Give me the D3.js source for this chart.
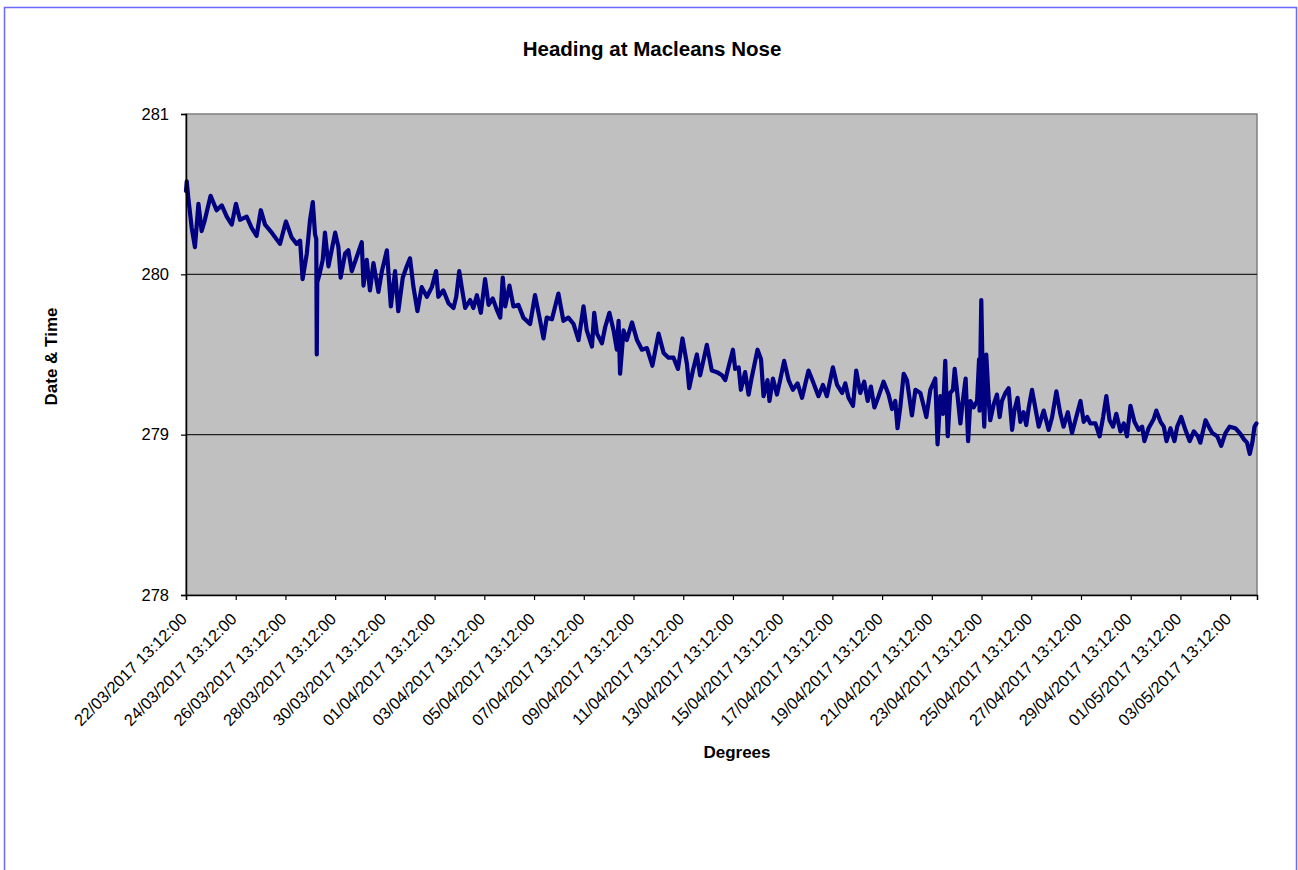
<!DOCTYPE html>
<html>
<head>
<meta charset="utf-8">
<script src="https://cdn.jsdelivr.net/npm/d3@7"></script>
<style>
  body { margin: 0; background: #fff; }
  text { font-family: "Liberation Sans", Arial, sans-serif; fill: #000; }
</style>
</head>
<body>
<div id="chart"></div>
<script>
// chart text
var chartTitle = "Heading at Macleans Nose";
var xTitle = "Degrees";
var yTitle = "Date & Time";

// first sample time, tick labels on the date axis
var startLabel = "22/03/2017 13:12:00";
var tickLabels = [
  "22/03/2017 13:12:00", "24/03/2017 13:12:00", "26/03/2017 13:12:00", "28/03/2017 13:12:00",
  "30/03/2017 13:12:00", "01/04/2017 13:12:00", "03/04/2017 13:12:00", "05/04/2017 13:12:00",
  "07/04/2017 13:12:00", "09/04/2017 13:12:00", "11/04/2017 13:12:00", "13/04/2017 13:12:00",
  "15/04/2017 13:12:00", "17/04/2017 13:12:00", "19/04/2017 13:12:00", "21/04/2017 13:12:00",
  "23/04/2017 13:12:00", "25/04/2017 13:12:00", "27/04/2017 13:12:00", "29/04/2017 13:12:00",
  "01/05/2017 13:12:00", "03/05/2017 13:12:00"
];
var endLabel = "04/05/2017 15:07:00";
var yTicks = [278, 279, 280, 281];

// samples: days since start, heading (deg)
var dayOffset = [
  0.00, 0.03, 0.09, 0.23, 0.36, 0.50, 0.63, 0.76, 0.99, 1.23, 1.44, 1.64, 1.84, 2.01, 2.17, 2.44,
  2.64, 2.84, 3.01, 3.18, 3.45, 3.78, 4.02, 4.25, 4.45, 4.59, 4.69, 4.86, 4.99, 5.10, 5.19, 5.24,
  5.26, 5.28, 5.37, 5.50, 5.59, 5.73, 6.00, 6.13, 6.22, 6.40, 6.53, 6.67, 6.87, 7.07, 7.14, 7.27,
  7.40, 7.54, 7.74, 7.88, 8.08, 8.24, 8.41, 8.54, 8.72, 8.88, 9.01, 9.15, 9.31, 9.48, 9.69, 9.89,
  10.06, 10.15, 10.35, 10.56,
  10.76, 10.87, 10.99, 11.09, 11.23, 11.43, 11.56, 11.70, 11.86, 12.03, 12.17, 12.34, 12.50, 12.64,
  12.74, 12.84, 13.01, 13.17, 13.37, 13.57, 13.84, 14.04, 14.22, 14.38, 14.51, 14.72, 14.98, 15.18,
  15.38, 15.59, 15.79, 15.99, 16.12, 16.33, 16.42, 16.53, 16.73, 16.86, 17.03, 17.20, 17.33, 17.40,
  17.46, 17.60, 17.73, 17.94, 18.14, 18.34, 18.54, 18.76, 19.01, 19.21, 19.41, 19.61, 19.79, 19.97,
  20.15, 20.24, 20.39, 20.55, 20.68, 20.95, 21.15, 21.36, 21.56,
  21.69, 21.82, 22.00, 22.09, 22.23, 22.32, 22.49, 22.63, 22.76, 22.99, 23.13, 23.23, 23.39, 23.47,
  23.61, 23.77, 23.90, 24.06, 24.24, 24.41, 24.60, 24.78, 25.04, 25.22, 25.44, 25.62, 25.78, 26.02,
  26.19, 26.39, 26.52, 26.65, 26.83, 26.96, 27.12, 27.28, 27.42, 27.55, 27.69, 27.86, 28.06, 28.26,
  28.40, 28.53, 28.62, 28.73,
  28.87, 29.00, 29.20, 29.34, 29.54, 29.67, 29.78, 29.94, 30.14, 30.23, 30.34, 30.45, 30.54, 30.64,
  30.74, 30.85, 30.92, 31.01, 31.15, 31.23, 31.36, 31.46, 31.55, 31.68, 31.82, 31.90, 31.92, 31.99,
  32.06, 32.11, 32.19, 32.29, 32.35, 32.49, 32.62, 32.73,
  32.82, 32.96, 33.09, 33.23, 33.32, 33.45, 33.56, 33.69, 33.80, 33.90, 34.03, 34.16, 34.30, 34.50,
  34.70, 34.84, 35.01, 35.17, 35.30, 35.47, 35.64, 35.81, 35.98, 36.11, 36.25, 36.38, 36.58, 36.75,
  36.89, 37.02, 37.15, 37.29, 37.42, 37.59, 37.72, 37.85, 37.99, 38.15, 38.32, 38.46, 38.55, 38.72,
  38.93, 39.03, 39.20, 39.33, 39.44, 39.60, 39.76, 39.87, 40.03, 40.20, 40.37, 40.54, 40.70, 40.80,
  41.01, 41.14, 41.28, 41.48, 41.64, 41.81, 41.98, 42.21, 42.39, 42.56, 42.68, 42.79, 42.89, 42.98,
  43.06
];
var heading = [
  280.52, 280.58, 280.48, 280.29, 280.17, 280.44, 280.27, 280.34, 280.49, 280.40, 280.43, 280.36, 280.31, 280.44, 280.34, 280.36,
  280.29, 280.24, 280.40, 280.31, 280.26, 280.19, 280.33, 280.23, 280.19, 280.21, 279.97, 280.13, 280.34, 280.45, 280.25, 280.22,
  279.50, 279.95, 280.00, 280.09, 280.26, 280.05, 280.26, 280.17, 279.98, 280.13, 280.15, 280.02, 280.11, 280.20, 279.93, 280.09,
  279.90, 280.07, 279.89, 280.02, 280.15, 279.80, 280.02, 279.77, 279.98, 280.05, 280.10, 279.92, 279.77, 279.92, 279.86, 279.92,
  280.02, 279.86, 279.90, 279.82,
  279.79, 279.86, 280.02, 279.92, 279.79, 279.84, 279.79, 279.87, 279.76, 279.97, 279.81, 279.85, 279.78, 279.73,
  279.98, 279.80, 279.93, 279.80, 279.81, 279.73, 279.69, 279.87, 279.73, 279.60, 279.73, 279.72, 279.88, 279.71,
  279.73, 279.69, 279.59, 279.80, 279.65, 279.55, 279.76, 279.63, 279.57, 279.67, 279.76, 279.65, 279.53, 279.71,
  279.38, 279.65, 279.59, 279.70, 279.59, 279.53, 279.54, 279.43, 279.63, 279.51, 279.48, 279.48, 279.41, 279.60,
  279.44, 279.29, 279.40, 279.50, 279.37, 279.56, 279.40, 279.39, 279.37,
  279.34, 279.42, 279.53, 279.41, 279.42, 279.28, 279.39, 279.25, 279.36, 279.53, 279.47, 279.24, 279.34, 279.21,
  279.35, 279.25, 279.34, 279.46, 279.34, 279.28, 279.32, 279.23, 279.40, 279.33, 279.24, 279.31, 279.24, 279.42,
  279.31, 279.26, 279.32, 279.23, 279.18, 279.40, 279.26, 279.33, 279.21, 279.30, 279.17, 279.24, 279.33, 279.25,
  279.16, 279.21, 279.04, 279.17,
  279.38, 279.34, 279.12, 279.28, 279.26, 279.18, 279.11, 279.28, 279.35, 278.94, 279.24, 279.13, 279.46, 278.99,
  279.26, 279.28, 279.41, 279.28, 279.07, 279.19, 279.35, 278.96, 279.21, 279.17, 279.21, 279.47, 279.15, 279.84,
  279.24, 279.05, 279.50, 279.21, 279.09, 279.19, 279.25, 279.11,
  279.21, 279.26, 279.29, 279.03, 279.15, 279.23, 279.08, 279.14, 279.06, 279.17, 279.28, 279.17, 279.05, 279.15,
  279.03, 279.11, 279.27, 279.13, 279.05, 279.14, 279.01, 279.11, 279.21, 279.08, 279.11, 279.07, 279.07, 278.99,
  279.11, 279.24, 279.09, 279.05, 279.13, 279.02, 279.07, 278.99, 279.18, 279.08, 279.03, 279.05, 278.96, 279.04,
  279.10, 279.15, 279.08, 279.05, 278.96, 279.04, 278.96, 279.05, 279.11, 279.03, 278.96, 279.02, 278.99, 278.95,
  279.09, 279.05, 279.01, 278.99, 278.93, 279.01, 279.05, 279.04, 279.01, 278.97, 278.95, 278.88, 278.95, 279.05,
  279.07
];

var width = 1298, height = 870;
var plot = { left: 186, top: 114, right: 1257, bottom: 595 };

var parseTime = d3.utcParse("%d/%m/%Y %H:%M:%S");
var startTime = parseTime(startLabel);
var endTime = parseTime(endLabel);
var dayMs = 864e5;

var data = dayOffset.map(function (d, i) {
  return { t: new Date(startTime.getTime() + d * dayMs), v: heading[i] };
});

var svg = d3.select('#chart').append('svg')
  .attr('width', width).attr('height', height);

// outer chart border
svg.append('rect')
  .attr('x', 4.5).attr('y', 7.5)
  .attr('width', 1292).attr('height', 900)
  .attr('fill', 'none').attr('stroke', '#6a6aff').attr('stroke-width', 1.5);

var x = d3.scaleUtc().domain([startTime, endTime]).range([plot.left, plot.right]);
var y = d3.scaleLinear().domain([278, 281]).range([plot.bottom, plot.top]);

// plot area
svg.append('rect')
  .attr('x', plot.left).attr('y', plot.top)
  .attr('width', plot.right - plot.left).attr('height', plot.bottom - plot.top)
  .attr('fill', '#c0c0c0').attr('stroke', '#808080').attr('stroke-width', 1.5);

// gridlines
svg.append('g').selectAll('line')
  .data(yTicks.filter(function (d) { return d > 278 && d < 281; }))
  .enter().append('line')
  .attr('x1', plot.left).attr('x2', plot.right)
  .attr('y1', function (d) { return y(d); })
  .attr('y2', function (d) { return y(d); })
  .attr('stroke', '#222').attr('stroke-width', 1.3);

// series
var line = d3.line()
  .x(function (d) { return x(d.t); })
  .y(function (d) { return y(d.v); });

svg.append('path')
  .datum(data)
  .attr('d', line)
  .attr('fill', 'none')
  .attr('stroke', '#000080')
  .attr('stroke-width', 4.2)
  .attr('stroke-linejoin', 'round')
  .attr('stroke-linecap', 'round');

// y axis
var yAxis = svg.append('g')
  .attr('transform', 'translate(' + plot.left + ',0)')
  .call(d3.axisLeft(y).tickValues(yTicks).tickSize(5).tickPadding(12).tickFormat(d3.format('d')));
yAxis.select('.domain').attr('stroke', '#000').attr('stroke-width', 1.5);
yAxis.selectAll('.tick line').attr('stroke', '#000').attr('stroke-width', 1.2);
yAxis.selectAll('text').style('font-size', '16.5px').style('font-family', '"Liberation Sans", Arial, sans-serif');

// x axis
var xAxis = svg.append('g')
  .attr('transform', 'translate(0,' + plot.bottom + ')')
  .call(d3.axisBottom(x).tickValues(tickLabels.map(parseTime)).tickSize(5)
    .tickFormat(d3.utcFormat('%d/%m/%Y %H:%M:%S')));
xAxis.select('.domain').attr('stroke', '#000').attr('stroke-width', 1.5);
xAxis.selectAll('.tick line').attr('stroke', '#000').attr('stroke-width', 1.2);
xAxis.selectAll('text')
  .attr('x', 0).attr('y', 0).attr('dy', 0)
  .attr('transform', 'translate(1.5,25) rotate(-45)')
  .style('text-anchor', 'end')
  .style('font-size', '16.5px')
  .style('font-family', '"Liberation Sans", Arial, sans-serif');

// titles
svg.append('text')
  .attr('x', 652).attr('y', 56)
  .attr('text-anchor', 'middle')
  .style('font-size', '20.5px').style('font-weight', 'bold')
  .text(chartTitle);

svg.append('text')
  .attr('x', 737).attr('y', 758)
  .attr('text-anchor', 'middle')
  .style('font-size', '17px').style('font-weight', 'bold')
  .text(xTitle);

svg.append('text')
  .attr('transform', 'translate(56.5,356.5) rotate(-90)')
  .attr('text-anchor', 'middle')
  .style('font-size', '17px').style('font-weight', 'bold')
  .text(yTitle);
</script>
</body>
</html>
